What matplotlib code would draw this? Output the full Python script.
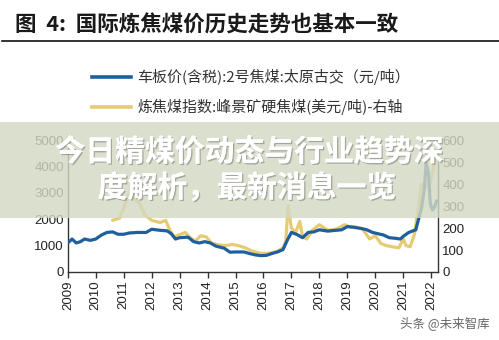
import matplotlib.pyplot as plt
import matplotlib.patheffects as pe
from matplotlib.patches import Rectangle

plt.rcParams['font.family'] = ['Liberation Sans', 'Noto Sans CJK SC', 'DejaVu Sans']
CJK = ['Noto Sans CJK SC', 'DejaVu Sans']

# 车板价(含税):2号焦煤:太原古交 (元/吨) - left axis
blue_t = [2009.0, 2009.15, 2009.3, 2009.45, 2009.6, 2009.8, 2010.0, 2010.2, 2010.4, 2010.6,
          2010.8, 2011.0, 2011.2, 2011.5, 2011.8, 2012.0, 2012.3, 2012.55, 2012.7, 2012.85,
          2013.0, 2013.3, 2013.5, 2013.7, 2013.9, 2014.1, 2014.3, 2014.6, 2014.8, 2015.0,
          2015.3, 2015.5, 2015.7, 2015.9, 2016.1, 2016.3, 2016.5, 2016.7, 2016.85, 2017.0,
          2017.2, 2017.4, 2017.6, 2017.8, 2018.0, 2018.3, 2018.6, 2018.8, 2019.0, 2019.2,
          2019.5, 2019.7, 2019.9, 2020.1, 2020.3, 2020.5, 2020.7, 2020.9, 2021.0, 2021.2,
          2021.35, 2021.45, 2021.55, 2021.65, 2021.75, 2021.82, 2021.9, 2021.97, 2022.05, 2022.12,
          2022.2]
blue_v = [1100, 1250, 1100, 1150, 1250, 1200, 1250, 1400, 1500, 1520,
          1430, 1430, 1480, 1500, 1500, 1620, 1580, 1560, 1450, 1250,
          1300, 1320, 1150, 1100, 1150, 1100, 980, 900, 750, 760,
          760, 700, 650, 620, 630, 700, 760, 850, 1200, 1500,
          1420, 1300, 1500, 1520, 1600, 1550, 1580, 1600, 1720, 1700,
          1650, 1600, 1500, 1450, 1400, 1300, 1280, 1250, 1350, 1500,
          1560, 1600, 2000, 2400, 3100, 4100, 3800, 2600, 2350, 2450,
          2700]

# 炼焦煤指数:峰景矿硬焦煤(美元/吨)-右轴
yel_t = [2010.6, 2010.85, 2011.0, 2011.15, 2011.35, 2011.55, 2011.75, 2012.0, 2012.3, 2012.5,
         2012.65, 2012.8, 2013.0, 2013.2, 2013.35, 2013.55, 2013.75, 2013.95, 2014.15, 2014.35,
         2014.6, 2014.9, 2015.1, 2015.35, 2015.6, 2015.9, 2016.2, 2016.5, 2016.7, 2016.8,
         2016.88, 2017.0, 2017.15, 2017.3, 2017.4, 2017.55, 2017.75, 2018.0, 2018.3, 2018.6,
         2018.9, 2019.1, 2019.3, 2019.55, 2019.8, 2020.0, 2020.2, 2020.4, 2020.6, 2020.85,
         2021.0, 2021.1, 2021.25, 2021.4, 2021.55, 2021.65, 2021.75, 2021.85, 2021.95, 2022.05,
         2022.12, 2022.2]
yel_v = [235, 245, 290, 350, 335, 315, 260, 235, 225, 235,
         190, 160, 170, 180, 160, 140, 165, 160, 130, 125,
         120, 125, 120, 110, 95, 85, 85, 95, 110, 140,
         300, 200, 180, 230, 160, 150, 190, 215, 190, 195,
         215, 205, 205, 195, 150, 165, 130, 120, 115, 110,
         150, 120, 115, 170, 300, 400, 380, 390, 400, 450,
         500, 520]

years = list(range(2009, 2023))
left_ticks = [0, 1000, 2000, 3000, 4000, 5000]
right_ticks = [0, 100, 200, 300, 400, 500, 600]

blue_c = '#1f5f9c'
yel_c = '#e6cb73'

fig = plt.figure(figsize=(4.99, 3.40), dpi=100)
ax = fig.add_axes([0.136, 0.2, 0.742, 0.388])
ax2 = ax.twinx()

ax.plot(blue_t, blue_v, color=blue_c, lw=2.3, solid_capstyle='round', zorder=3)
ax2.plot(yel_t, yel_v, color=yel_c, lw=2.3, solid_capstyle='round', zorder=2)
ax.set_zorder(ax2.get_zorder() + 1)
ax.patch.set_visible(False)

ax.set_xlim(2009, 2022.25)
ax.set_ylim(0, 5000)
ax2.set_ylim(0, 600)
ax.set_xticks(years)
ax.set_xticklabels([str(y) for y in years], rotation=90, fontsize=9.5, color='#222')
ax.set_yticks(left_ticks)
ax.set_yticklabels([str(v) for v in left_ticks], fontsize=9.5, color='#222')
ax2.set_yticks(right_ticks)
ax2.set_yticklabels([str(v) for v in right_ticks], fontsize=9.5, color='#222')

for a in (ax, ax2):
    a.spines['top'].set_visible(False)
    for s in ('left', 'right', 'bottom'):
        a.spines[s].set_color('#333')
        a.spines[s].set_linewidth(1.0)
ax.spines['right'].set_visible(False)
ax2.spines['left'].set_visible(False)
ax2.spines['bottom'].set_visible(False)
ax.tick_params(axis='x', length=4, width=1, color='#333', pad=2)
ax.tick_params(axis='y', length=0, pad=3)
ax2.tick_params(axis='y', length=0, pad=3)

# title and rule
fig.text(15 / 499, 1 - 25 / 340, '图  4:  国际炼焦煤价历史走势也基本一致', family=CJK,
         fontsize=15.5, fontweight='bold', color='#1a1a1a', va='center', ha='left')
fig.add_artist(plt.Line2D([2 / 499, 1.0], [1 - 41 / 340] * 2, color='#111', lw=1.2))

# legend
leg = [('车板价(含税):2号焦煤:太原古交（元/吨）', blue_c, 77),
       ('炼焦煤指数:峰景矿硬焦煤(美元/吨)-右轴', yel_c, 107)]
for label, c, y in leg:
    fig.add_artist(plt.Line2D([92 / 499, 131 / 499], [1 - y / 340] * 2, color=c, lw=2.6))
    fig.text(137 / 499, 1 - y / 340, label, family=CJK, fontsize=10.8, color='#333',
             va='center', ha='left')

# banner overlay
fig.add_artist(Rectangle((0, 1 - 218 / 340), 1, 96 / 340, transform=fig.transFigure,
                         facecolor='#d3d9c3', alpha=0.82, edgecolor='none', zorder=10))
shadow = [pe.withSimplePatchShadow(offset=(1, -1), shadow_rgbFace='#555', alpha=0.4), pe.Normal()]
fig.text(0.5, 1 - 152 / 340, '今日精煤价动态与行业趋势深', family=CJK, fontsize=21.5,
         fontweight='bold', color='white', ha='center', va='center', zorder=11,
         path_effects=shadow)
fig.text(0.495, 1 - 188 / 340, '度解析，最新消息一览', family=CJK, fontsize=21.5,
         fontweight='bold', color='white', ha='center', va='center', zorder=11,
         path_effects=shadow)

# watermark
fig.text(400 / 499, 1 - 323 / 340, '头条 @未来智库', family=CJK, fontsize=9, color='#666',
         va='center', ha='left')

fig.savefig('out.png', dpi=100)
